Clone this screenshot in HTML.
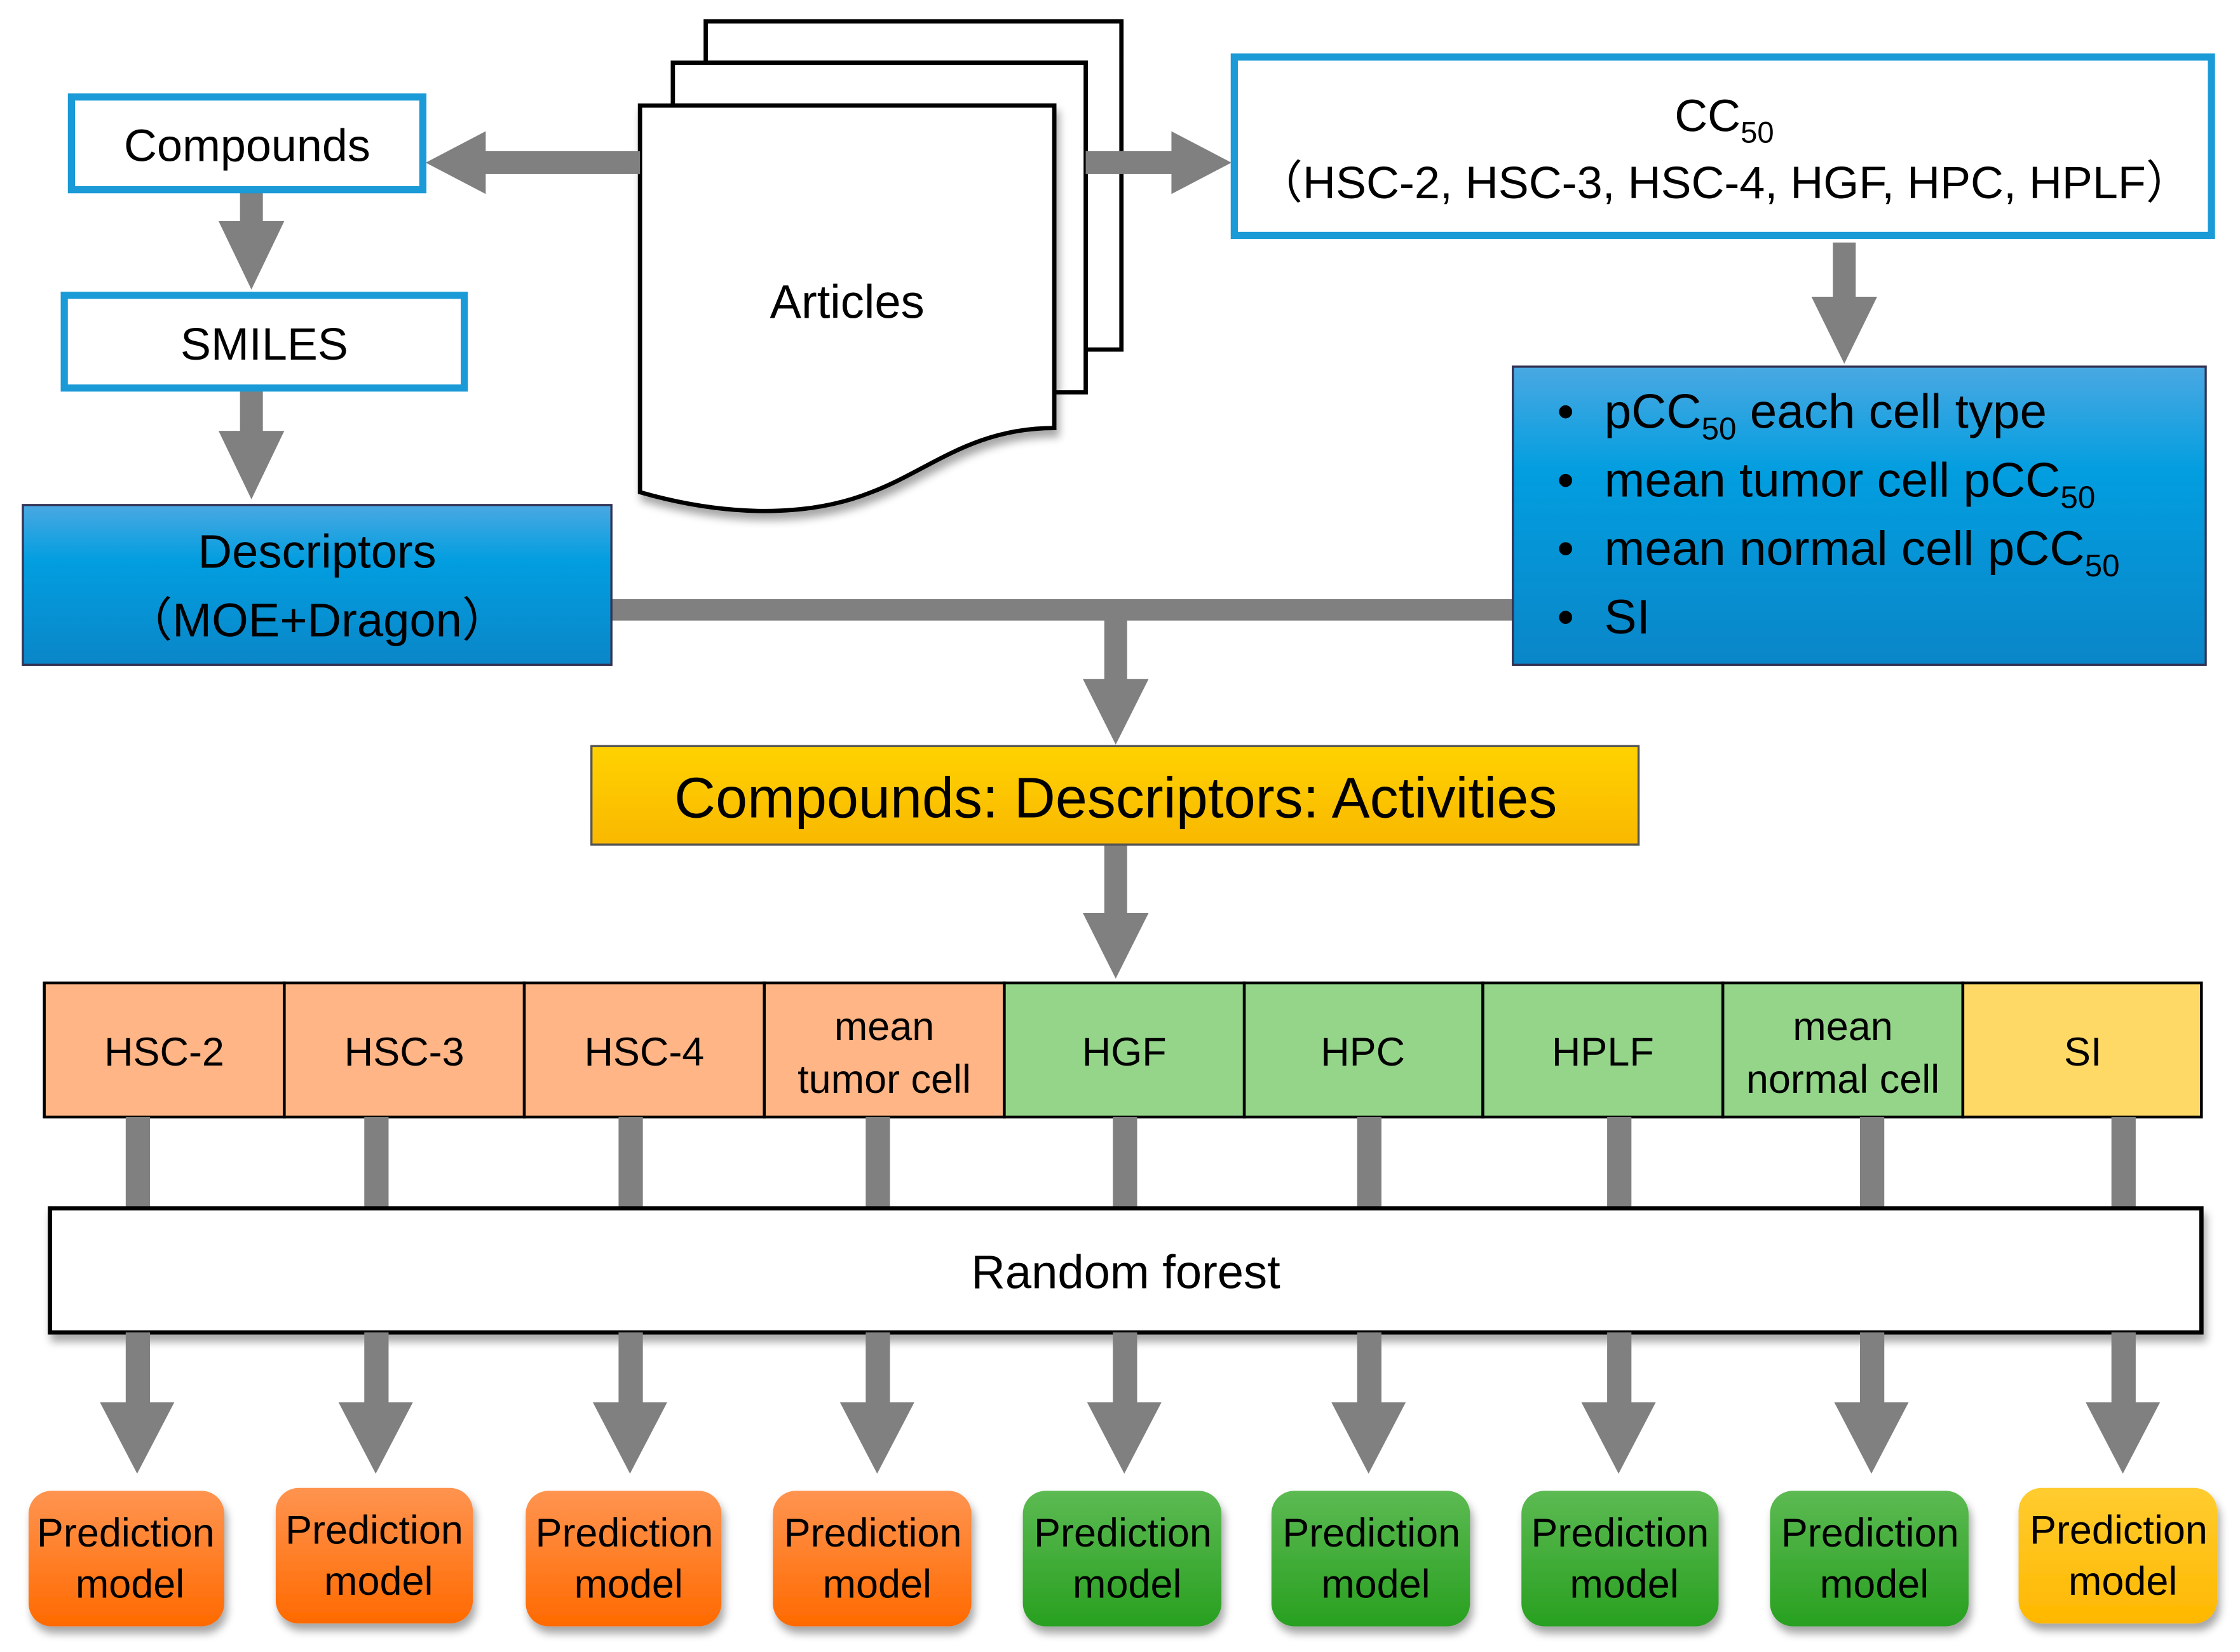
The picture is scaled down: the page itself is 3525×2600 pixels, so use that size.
<!DOCTYPE html>
<html><head><meta charset="utf-8"><style>html,body{margin:0;padding:0;background:#fff}svg{display:block}</style></head>
<body>
<svg width="3525" height="2600" viewBox="0 0 1568 1158" preserveAspectRatio="none" xmlns="http://www.w3.org/2000/svg" font-family="Liberation Sans, DejaVu Sans, sans-serif">
<defs>
<linearGradient id="bl" x1="0" y1="0" x2="0" y2="1"><stop offset="0" stop-color="#4aa8e2"/><stop offset="0.35" stop-color="#029ee0"/><stop offset="1" stop-color="#0a86c8"/></linearGradient>
<linearGradient id="ye" x1="0" y1="0" x2="0" y2="1"><stop offset="0" stop-color="#ffd200"/><stop offset="1" stop-color="#f9b800"/></linearGradient>
<linearGradient id="po" x1="0" y1="0" x2="0" y2="1"><stop offset="0" stop-color="#ff9450"/><stop offset="1" stop-color="#ff6a00"/></linearGradient>
<linearGradient id="pg" x1="0" y1="0" x2="0" y2="1"><stop offset="0" stop-color="#5cba52"/><stop offset="1" stop-color="#28a020"/></linearGradient>
<linearGradient id="py" x1="0" y1="0" x2="0" y2="1"><stop offset="0" stop-color="#ffcc30"/><stop offset="1" stop-color="#ffb800"/></linearGradient>
<filter id="sh" x="-10%" y="-10%" width="130%" height="140%"><feDropShadow dx="2" dy="5" stdDeviation="3" flood-color="#000" flood-opacity="0.35"/></filter>
</defs>
<!-- articles pages -->
<g stroke="#000" stroke-width="3" fill="#fff">
<path d="M494,15 H785 V245 H760 V44 H494 Z"/>
<path d="M471,44 H760 V275 H738 V74 H471 Z"/>
<path d="M448,74 H738 V300 C680,300 650,330 610,345 C560,365 500,360 448,345 Z" filter="url(#sh)"/>
</g>
<text x="593" y="223" font-size="33" text-anchor="middle">Articles</text>
<g fill="#808080">
<rect x="168" y="133" width="16" height="25"/><polygon points="153,155 199,155 176,203"/>
<rect x="168" y="272" width="16" height="32"/><polygon points="153,302 199,302 176,350"/>
<rect x="338" y="106" width="110" height="16"/><polygon points="340,92 340,136 298,114"/>
<rect x="760" y="106" width="62" height="16"/><polygon points="820,92 820,136 862,114"/>
<rect x="1283" y="170" width="16" height="40"/><polygon points="1268,208 1314,208 1291,255"/>
<rect x="428" y="420" width="632" height="15"/>
<rect x="773" y="433" width="16" height="45"/><polygon points="758,476 804,476 781,522"/>
<rect x="773" y="592" width="16" height="50"/><polygon points="758,640 804,640 781,686"/>
</g>
<rect x="50" y="68" width="246" height="65" fill="#fff" stroke="#1a9ad6" stroke-width="5"/>
<text x="173" y="113" font-size="32" text-anchor="middle">Compounds</text>
<rect x="45" y="207" width="280" height="65" fill="#fff" stroke="#1a9ad6" stroke-width="5"/>
<text x="185" y="252" font-size="32" text-anchor="middle">SMILES</text>
<rect x="16" y="354" width="412" height="112" fill="url(#bl)" stroke="#335" stroke-width="1.5"/>
<text x="222" y="398" font-size="33" text-anchor="middle">Descriptors</text>
<text x="222" y="446" font-size="33" text-anchor="middle">（MOE+Dragon）</text>
<rect x="864" y="40" width="684" height="125" fill="#fff" stroke="#1a9ad6" stroke-width="5"/>
<text x="1207" y="92" font-size="32" text-anchor="middle">CC<tspan font-size="21" dy="8">50</tspan></text>
<text x="1207" y="139" font-size="32" text-anchor="middle">（HSC-2, HSC-3, HSC-4, HGF, HPC, HPLF）</text>
<rect x="1059" y="257" width="485" height="209" fill="url(#bl)" stroke="#335" stroke-width="1.5"/>
<g font-size="34">
<text x="1090" y="300">•</text><text x="1123" y="300">pCC<tspan font-size="22" dy="8">50</tspan><tspan dy="-8"> each cell type</tspan></text>
<text x="1090" y="348">•</text><text x="1123" y="348">mean tumor cell pCC<tspan font-size="22" dy="8">50</tspan></text>
<text x="1090" y="396">•</text><text x="1123" y="396">mean normal cell pCC<tspan font-size="22" dy="8">50</tspan></text>
<text x="1090" y="444">•</text><text x="1123" y="444">SI</text>
</g>
<rect x="414" y="523" width="733" height="69" fill="url(#ye)" stroke="#555" stroke-width="1.5"/>
<text x="781" y="573" font-size="40" text-anchor="middle">Compounds: Descriptors: Activities</text>
<g stroke="#000" stroke-width="2">
<rect x="31" y="689" width="168" height="94" fill="#ffb585"/>
<rect x="199" y="689" width="168" height="94" fill="#ffb585"/>
<rect x="367" y="689" width="168" height="94" fill="#ffb585"/>
<rect x="535" y="689" width="168" height="94" fill="#ffb585"/>
<rect x="703" y="689" width="168" height="94" fill="#95d58a"/>
<rect x="871" y="689" width="167" height="94" fill="#95d58a"/>
<rect x="1038" y="689" width="168" height="94" fill="#95d58a"/>
<rect x="1206" y="689" width="168" height="94" fill="#95d58a"/>
<rect x="1374" y="689" width="167" height="94" fill="#ffd966"/>
</g>
<g font-size="28" text-anchor="middle">
<text x="115" y="747">HSC-2</text>
<text x="283" y="747">HSC-3</text>
<text x="451" y="747">HSC-4</text>
<text x="619" y="729">mean</text><text x="619" y="766">tumor cell</text>
<text x="787" y="747">HGF</text>
<text x="954" y="747">HPC</text>
<text x="1122" y="747">HPLF</text>
<text x="1290" y="729">mean</text><text x="1290" y="766">normal cell</text>
<text x="1458" y="747">SI</text>
</g>
<g fill="#808080">
<rect x="88" y="783" width="17" height="66"/><rect x="255" y="783" width="17" height="66"/><rect x="433" y="783" width="17" height="66"/><rect x="606" y="783" width="17" height="66"/><rect x="779" y="783" width="17" height="66"/><rect x="950" y="783" width="17" height="66"/><rect x="1125" y="783" width="17" height="66"/><rect x="1302" y="783" width="17" height="66"/><rect x="1478" y="783" width="17" height="66"/>
</g>
<rect x="35" y="847" width="1506" height="87" fill="#fff" stroke="#000" stroke-width="3" filter="url(#sh)"/>
<text x="788" y="903" font-size="33" text-anchor="middle">Random forest</text>
<g fill="#808080">
<g transform="translate(96,0)"><rect x="-8" y="934" width="17" height="52"/><polygon points="-26,983 26,983 0,1033"/></g>
<g transform="translate(263,0)"><rect x="-8" y="934" width="17" height="52"/><polygon points="-26,983 26,983 0,1033"/></g>
<g transform="translate(441,0)"><rect x="-8" y="934" width="17" height="52"/><polygon points="-26,983 26,983 0,1033"/></g>
<g transform="translate(614,0)"><rect x="-8" y="934" width="17" height="52"/><polygon points="-26,983 26,983 0,1033"/></g>
<g transform="translate(787,0)"><rect x="-8" y="934" width="17" height="52"/><polygon points="-26,983 26,983 0,1033"/></g>
<g transform="translate(958,0)"><rect x="-8" y="934" width="17" height="52"/><polygon points="-26,983 26,983 0,1033"/></g>
<g transform="translate(1133,0)"><rect x="-8" y="934" width="17" height="52"/><polygon points="-26,983 26,983 0,1033"/></g>
<g transform="translate(1310,0)"><rect x="-8" y="934" width="17" height="52"/><polygon points="-26,983 26,983 0,1033"/></g>
<g transform="translate(1486,0)"><rect x="-8" y="934" width="17" height="52"/><polygon points="-26,983 26,983 0,1033"/></g>
</g>
<g filter="url(#sh)">
<rect x="20" y="1045" width="137" height="95" rx="16" fill="url(#po)"/>
<rect x="193" y="1043" width="138" height="95" rx="16" fill="url(#po)"/>
<rect x="368" y="1045" width="137" height="95" rx="16" fill="url(#po)"/>
<rect x="541" y="1045" width="139" height="95" rx="16" fill="url(#po)"/>
<rect x="716" y="1045" width="139" height="95" rx="16" fill="url(#pg)"/>
<rect x="890" y="1045" width="139" height="95" rx="16" fill="url(#pg)"/>
<rect x="1065" y="1045" width="138" height="95" rx="16" fill="url(#pg)"/>
<rect x="1239" y="1045" width="139" height="95" rx="16" fill="url(#pg)"/>
<rect x="1413" y="1043" width="139" height="95" rx="16" fill="url(#py)"/>
</g>
<g font-size="28" text-anchor="middle">
<text x="88" y="1084">Prediction</text><text x="91" y="1120">model</text>
<text x="262" y="1082">Prediction</text><text x="265" y="1118">model</text>
<text x="437" y="1084">Prediction</text><text x="440" y="1120">model</text>
<text x="611" y="1084">Prediction</text><text x="614" y="1120">model</text>
<text x="786" y="1084">Prediction</text><text x="789" y="1120">model</text>
<text x="960" y="1084">Prediction</text><text x="963" y="1120">model</text>
<text x="1134" y="1084">Prediction</text><text x="1137" y="1120">model</text>
<text x="1309" y="1084">Prediction</text><text x="1312" y="1120">model</text>
<text x="1483" y="1082">Prediction</text><text x="1486" y="1118">model</text>
</g>
</svg>
</body></html>
